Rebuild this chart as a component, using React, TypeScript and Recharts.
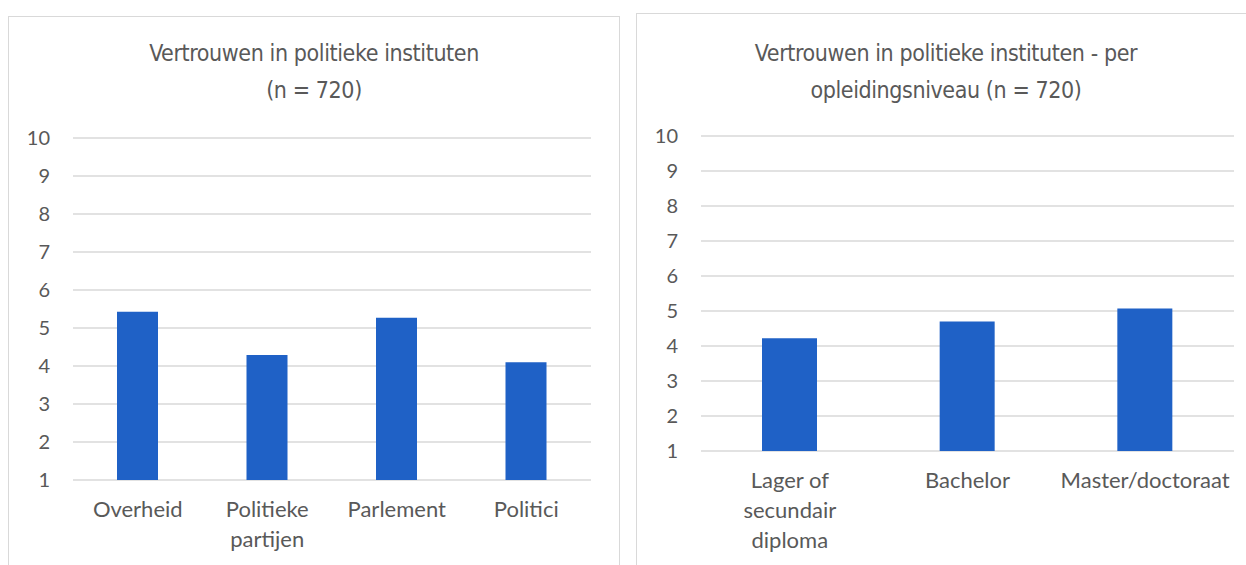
import { Bar, BarChart, CartesianGrid, XAxis, YAxis } from "recharts";

const instituten = ["Overheid", "Politieke partijen", "Parlement", "Politici"];
const vertrouwenInstituten = [5.43, 4.29, 5.27, 4.1];

const opleidingen = ["Lager of secundair diploma", "Bachelor", "Master/doctoraat"];
const vertrouwenOpleiding = [4.22, 4.7, 5.07];

const yTicks = [1, 2, 3, 4, 5, 6, 7, 8, 9, 10];

const leftData = instituten.map((naam, i) => ({ naam, waarde: vertrouwenInstituten[i] }));
const rightData = opleidingen.map((naam, i) => ({ naam, waarde: vertrouwenOpleiding[i] }));

const textColor = "#595959";
const gridColor = "#d9d9d9";
const barColor = "#1f61c6";
const tickFont = "Lato, 'Open Sans', sans-serif";
const titleFont = "'DejaVu Sans Condensed', 'Liberation Sans Narrow', sans-serif";

// greedy word wrap, excel style
const wrapLabel = (label: string, maxChars = 9) => {
  const lines: string[] = [];
  let current = "";
  for (const word of label.split(" ")) {
    const next = current ? `${current} ${word}` : word;
    if (current && next.length > maxChars) {
      lines.push(current);
      current = word;
    } else {
      current = next;
    }
  }
  if (current) lines.push(current);
  return lines;
};

const WrappedTick = (props: any) => {
  const { x, y, payload } = props;
  const lines = wrapLabel(String(payload.value));
  return (
    <text x={x} y={y + 37} textAnchor="middle" fill={textColor} fontSize={22} fontFamily={tickFont}>
      {lines.map((line, i) => (
        <tspan key={i} x={x} dy={i === 0 ? 0 : 30}>
          {line}
        </tspan>
      ))}
    </text>
  );
};

interface PanelProps {
  left: number;
  top: number;
  width: number;
  height: number;
  title: string[];
  titleTop: number;
  data: { naam: string; waarde: number }[];
  margin: { top: number; right: number; left: number; bottom: number };
  barSize: number;
}

function Panel({ left, top, width, height, title, titleTop, data, margin, barSize }: PanelProps) {
  return (
    <div
      style={{
        position: "absolute",
        left,
        top,
        width,
        height,
        border: `1.5px solid ${gridColor}`,
        boxSizing: "border-box",
        background: "#fff",
      }}
    >
      <div
        style={{
          position: "absolute",
          left: 0,
          top: titleTop - top,
          width: width - 2,
          textAlign: "center",
          fontFamily: titleFont,
          fontSize: 23,
          letterSpacing: "-0.4px",
          lineHeight: "37px",
          color: textColor,
        }}
      >
        {title.map((line) => (
          <div key={line}>{line}</div>
        ))}
      </div>
      <div style={{ position: "absolute", left: -1.5, top: -1.5 }}>
        <BarChart width={width} height={height} data={data} margin={margin}>
          <CartesianGrid vertical={false} stroke={gridColor} strokeWidth={1.5} />
          <XAxis
            dataKey="naam"
            axisLine={false}
            tickLine={false}
            tickSize={0}
            tickMargin={0}
            height={40}
            interval={0}
            tick={<WrappedTick />}
          />
          <YAxis
            domain={[1, 10]}
            ticks={yTicks}
            type="number"
            allowDataOverflow
            axisLine={false}
            tickLine={false}
            tickSize={0}
            tickMargin={23}
            width={40}
            tick={{ fontSize: 20, fill: textColor, fontFamily: tickFont }}
          />
          <Bar dataKey="waarde" fill={barColor} barSize={barSize} isAnimationActive={false} />
        </BarChart>
      </div>
    </div>
  );
}

export default function App() {
  return (
    <div
      style={{
        position: "absolute",
        left: 0,
        top: 0,
        width: 1246,
        height: 565,
        overflow: "hidden",
        background: "#fff",
      }}
    >
      <Panel
        left={8}
        top={16}
        width={612}
        height={560}
        title={["Vertrouwen in politieke instituten", "(n = 720)"]}
        titleTop={34}
        data={leftData}
        margin={{ top: 122, right: 29, left: 25, bottom: 56 }}
        barSize={41}
      />
      <Panel
        left={636}
        top={13}
        width={620}
        height={560}
        title={["Vertrouwen in politieke instituten - per", "opleidingsniveau (n = 720)"]}
        titleTop={34}
        data={rightData}
        margin={{ top: 123, right: 22, left: 25, bottom: 82 }}
        barSize={55}
      />
    </div>
  );
}
